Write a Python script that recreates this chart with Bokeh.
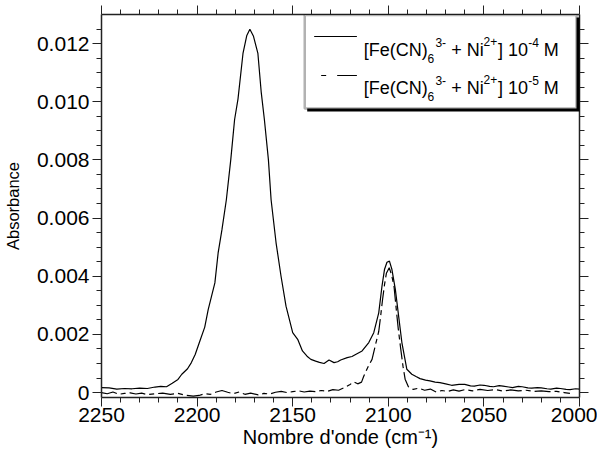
from bokeh.plotting import figure
from bokeh.models import Range1d, LinearAxis, FixedTicker, BoxAnnotation, Label, CustomJSTickFormatter
from bokeh.embed import file_html
from bokeh.resources import INLINE

# ---------------- data ----------------
wavenumber_1e4 = [2250, 2246, 2242, 2238, 2234, 2230, 2226, 2222, 2219, 2216, 2213, 2210, 2208,
                  2205, 2203, 2201, 2198.5, 2196, 2194.2, 2192.5, 2190.7, 2189, 2187, 2184.7, 2182.4,
                  2180.4, 2178.6, 2176, 2174, 2172.4, 2170.5, 2168.2, 2166.5, 2164.8, 2162.7,
                  2161.3, 2158.7, 2156.1, 2153.5, 2150, 2147.4, 2144.9, 2142.5, 2140.5, 2138,
                  2136, 2133.6, 2131, 2128.4, 2126.5, 2124.9, 2121.5, 2119, 2117.1, 2113.7, 2110.2,
                  2107.6, 2105, 2103.3, 2102, 2100.7, 2099.4, 2098.1, 2096.3, 2094.6, 2092.9,
                  2090.3, 2087.7, 2085.5, 2083.4, 2080.5, 2078.2, 2075.5, 2073, 2070, 2066.9, 2063,
                  2060, 2057, 2055, 2052, 2050, 2047, 2045, 2042, 2040, 2037, 2035, 2032, 2030,
                  2027, 2025, 2022, 2020, 2017, 2015, 2012, 2010, 2007, 2005, 2002, 2000]
absorbance_1e4 = [0.00017, 0.00016, 0.00012, 0.00014, 0.00013, 0.00015, 0.00014, 0.00019, 0.00021,
                  0.00020, 0.00032, 0.00045, 0.00063, 0.00082, 0.00103, 0.00131, 0.00178, 0.00225,
                  0.00285, 0.00330, 0.00377, 0.00480, 0.00560, 0.00663, 0.00800, 0.00938, 0.01010,
                  0.01166, 0.01228, 0.01249, 0.01225, 0.01166, 0.01035, 0.00938, 0.00800, 0.00663,
                  0.00515, 0.00400, 0.00297, 0.00206, 0.00183, 0.00143, 0.00125, 0.00114, 0.00108,
                  0.00104, 0.00100, 0.00112, 0.00103, 0.00106, 0.00112, 0.00120, 0.00124, 0.00131,
                  0.00143, 0.00172, 0.00206, 0.00274, 0.00366, 0.00423, 0.00448, 0.00452, 0.00423,
                  0.00354, 0.00263, 0.00172, 0.00080, 0.00063, 0.00055, 0.00048, 0.00043, 0.00040,
                  0.00036, 0.00034, 0.00030, 0.00025, 0.00028, 0.00028, 0.00023, 0.00022, 0.00026,
                  0.00025, 0.00021, 0.00020, 0.00024, 0.00022, 0.00019, 0.00017, 0.00021, 0.00020,
                  0.00016, 0.00015, 0.00017, 0.00016, 0.00013, 0.00012, 0.00015, 0.00014, 0.00011,
                  0.00010, 0.00013, 0.00012]

wavenumber_1e5 = [2250, 2247, 2244, 2241, 2238, 2235, 2232, 2229, 2226, 2222, 2218, 2214, 2210,
                  2206, 2202, 2199, 2196, 2193, 2190, 2187, 2184, 2181, 2178, 2175, 2172, 2168,
                  2165, 2162, 2159, 2156, 2153, 2150, 2147, 2144, 2141, 2138, 2135, 2132, 2129,
                  2126, 2123, 2120, 2118, 2116, 2114, 2112.8, 2110.5, 2108.5, 2106.5, 2105, 2104,
                  2103, 2102, 2101, 2099.5, 2098.3, 2097, 2096, 2094.8, 2093.5, 2092.3, 2091.2,
                  2089.5, 2087, 2084, 2081, 2078, 2075, 2072, 2069, 2066, 2063, 2060, 2056, 2052,
                  2048, 2044, 2040, 2036, 2032, 2028, 2024, 2020, 2016, 2012, 2008, 2005]
absorbance_1e5 = [0.00000, -0.00004, 0.00002, -0.00006, -0.00003, -0.00001, -0.00005, -0.00002,
                  -0.00007, -0.00004, -0.00002, -0.00006, -0.00003, -0.00009, -0.00012, -0.00010,
                  -0.00004, -0.00006, 0.00002, 0.00007, 0.00001, -0.00004, 0.00002, -0.00006,
                  -0.00002, -0.00008, -0.00003, -0.00005, 0.00001, 0.00004, 0.00000, 0.00003,
                  0.00006, 0.00002, 0.00005, 0.00003, 0.00007, 0.00004, 0.00010, 0.00008, 0.00017,
                  0.00028, 0.00037, 0.00030, 0.00036, 0.00057, 0.00090, 0.00114, 0.00170, 0.00210,
                  0.00263, 0.00320, 0.00370, 0.00410, 0.00429, 0.00405, 0.00365, 0.00297, 0.00220,
                  0.00150, 0.00090, 0.00046, 0.00020, 0.00011, 0.00015, 0.00008, 0.00012, 0.00002,
                  0.00007, 0.00004, 0.00009, 0.00005, 0.00010, 0.00006, 0.00011, 0.00007, 0.00010,
                  0.00005, 0.00009, 0.00006, 0.00008, 0.00004, 0.00006, 0.00003, 0.00004, 0.00000,
                  -0.00003]

x_ticks = [2250, 2200, 2150, 2100, 2050, 2000]
x_minor_ticks = [2240, 2230, 2220, 2210, 2190, 2180, 2170, 2160, 2140, 2130, 2120, 2110,
                 2090, 2080, 2070, 2060, 2040, 2030, 2020, 2010]
y_ticks = [0.0, 0.002, 0.004, 0.006, 0.008, 0.010, 0.012]
y_minor_ticks = [0.0005, 0.001, 0.0015, 0.0025, 0.003, 0.0035, 0.0045, 0.005, 0.0055,
                 0.0065, 0.007, 0.0075, 0.0085, 0.009, 0.0095, 0.0105, 0.011, 0.0115, 0.0125]

x_title = "Nombre d'onde (cm⁻¹)"
y_title = "Absorbance"

FONT = "Liberation Sans"
X0, X1 = 2250, 2000
Y0, Y1 = -0.00017, 0.0130

p = figure(width=597, height=454, output_backend="svg", toolbar_location=None,
           x_range=Range1d(X0, X1), y_range=Range1d(Y0, Y1),
           min_border_left=98, min_border_right=18, min_border_top=14, min_border_bottom=57,
           background_fill_color="white", border_fill_color="white")
p.outline_line_color = None
p.xgrid.visible = False
p.ygrid.visible = False
p.xaxis.visible = False
p.yaxis.visible = False


def style(ax, show_labels):
    ax.axis_line_color = "#222222"
    ax.axis_line_width = 1.5
    ax.major_tick_line_color = "#222222"
    ax.minor_tick_line_color = "#222222"
    ax.major_tick_line_width = 1
    ax.minor_tick_line_width = 1
    ax.major_tick_in = 0
    ax.major_tick_out = 9
    ax.minor_tick_in = 0
    ax.minor_tick_out = 5
    ax.major_label_text_font = FONT
    ax.major_label_text_font_size = "21px"
    ax.major_label_text_color = "black" if show_labels else None
    ax.axis_label_text_font = FONT
    ax.axis_label_text_font_style = "normal"
    ax.axis_label_text_color = "black"


xt = FixedTicker(ticks=x_ticks, minor_ticks=x_minor_ticks)
yt = FixedTicker(ticks=y_ticks, minor_ticks=y_minor_ticks)
yfmt = CustomJSTickFormatter(code="return tick == 0 ? '0' : tick.toFixed(3);")

bottom = LinearAxis(ticker=xt, axis_label=x_title)
style(bottom, True)
bottom.axis_label_text_font_size = "20px"
bottom.major_label_standoff = 1
bottom.axis_label_standoff = 1
left = LinearAxis(ticker=yt, formatter=yfmt, axis_label=y_title)
style(left, True)
left.axis_label_text_font_size = "16.5px"
left.major_label_standoff = 3
left.axis_label_standoff = 12
top = LinearAxis(ticker=xt)
style(top, False)
right = LinearAxis(ticker=yt)
style(right, False)
p.add_layout(bottom, "below")
p.add_layout(left, "left")
p.add_layout(top, "above")
p.add_layout(right, "right")

p.line(wavenumber_1e4, absorbance_1e4, line_color="black", line_width=1.2)
p.line(wavenumber_1e5, absorbance_1e5, line_color="black", line_width=1.2, line_dash="16 4 5 4")

# ---------------- legend (page-pixel layout converted to data space) ----------------
FL, FR, FT, FB = 106, 587, 22, 405


def gx(px):
    return X0 + (px - FL) / (FR - FL) * (X1 - X0)


def gy(py):
    return Y0 + (FB - py) / (FB - FT) * (Y1 - Y0)


p.add_layout(BoxAnnotation(left=gx(313), right=gx(588), top=gy(25), bottom=gy(119),
                           fill_color="black", fill_alpha=1, line_color=None))
p.add_layout(BoxAnnotation(left=gx(310.5), right=gx(584), top=gy(22.5), bottom=gy(116),
                           fill_color="white", fill_alpha=1, line_color="black", line_width=2.5))

p.segment(x0=[gx(320)], y0=[gy(44)], x1=[gx(363)], y1=[gy(44)], line_color="black",
          line_width=1.2, level="overlay")
p.segment(x0=[gx(320)], y0=[gy(83)], x1=[gx(363)], y1=[gy(83)], line_color="black",
          line_width=1.2, line_dash="0 7 5 11 20 100", level="overlay")

legend_rows = [("-4", 57), ("-5", 95.3)]
for exponent, base in legend_rows:
    pieces = [
        # (text, page x, baseline offset, size)
        ("[Fe(CN)", 370, 0, 18), ("6", 434, 8.5, 12), ("3-", 442, -7, 12),
        ("+ Ni", 458, 0, 18), ("2+", 490.5, -8.5, 12), ("] 10", 505, 0, 18),
        (exponent, 535.5, -7, 12), ("M", 551, 0, 18),
    ]
    for txt, px, dy, sz in pieces:
        p.add_layout(Label(x=gx(px), y=gy(base + dy), text=txt, text_font=FONT,
                           text_font_size=f"{sz}px", text_baseline="alphabetic",
                           text_align="left", text_color="black"))

open("out.html", "w").write(file_html(p, INLINE))
